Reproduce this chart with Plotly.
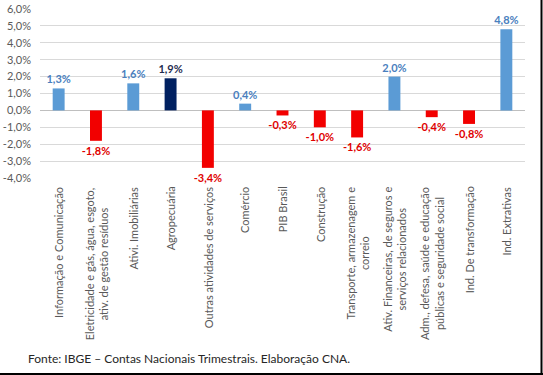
import plotly.graph_objects as go

categories = [
    "Informação e Comunicação",
    "Eletricidade e gás, água, esgoto,<br>ativ. de gestão resíduos",
    "Ativi. Imobiliárias",
    "Agropecuária",
    "Outras atividades de serviços",
    "Comércio",
    "PIB Brasil",
    "Construção",
    "Transporte, armazenagem e<br>correio",
    "Ativ. Financeiras, de seguros e<br>serviços relacionados",
    "Adm., defesa, saúde e educação<br>públicas e seguridade social",
    "Ind. De transformação",
    "Ind. Extrativas",
]
values = [1.3, -1.8, 1.6, 1.9, -3.4, 0.4, -0.3, -1.0, -1.6, 2.0, -0.4, -0.8, 4.8]
highlight = "Agropecuária"
y_ticks = [-4, -3, -2, -1, 0, 1, 2, 3, 4, 5, 6]
y_tick_labels = ["-4,0%", "-3,0%", "-2,0%", "-1,0%", "0,0%", "1,0%", "2,0%",
                 "3,0%", "4,0%", "5,0%", "6,0%"]
source_note = "Fonte: IBGE – Contas Nacionais Trimestrais. Elaboração CNA."

POS, NEG, HI = "#5B9BD5", "#F20000", "#002060"
POS_T, NEG_T, HI_T = "#4A80BE", "#E00000", "#1F2D50"

bar_colors, text_colors = [], []
for c, v in zip(categories, values):
    if c == highlight:
        bar_colors.append(HI); text_colors.append(HI_T)
    elif v >= 0:
        bar_colors.append(POS); text_colors.append(POS_T)
    else:
        bar_colors.append(NEG); text_colors.append(NEG_T)

xidx = list(range(len(categories)))

fig = go.Figure(go.Bar(
    x=xidx, y=values,
    marker=dict(color=bar_colors, line=dict(width=0)),
    texttemplate="%{y:.1f}%", textposition="outside", constraintext="none",
    textfont=dict(family="Lato", size=11, color=text_colors, weight="bold"),
    cliponaxis=False,
))

annotations = []
for i, c in enumerate(categories):
    annotations.append(dict(
        x=i, y=-0.04, xref="x", yref="paper", text=c, textangle=-90,
        showarrow=False, xanchor="center", yanchor="top", align="center",
        font=dict(family="Lato", size=11, color="#595959"),
    ))
annotations.append(dict(
    x=-14/485, y=(178-358)/169, xref="paper", yref="paper", text=source_note,
    showarrow=False, xanchor="left", yanchor="middle",
    font=dict(family="Lato", size=12, color="#262626"),
))

fig.update_layout(
    width=543, height=375,
    margin=dict(l=40, r=18, t=9, b=197, autoexpand=False),
    paper_bgcolor="white", plot_bgcolor="white",
    separators=",.",
    showlegend=False,
    bargap=0.68,
    xaxis=dict(range=[-0.5, len(categories)-0.5], showticklabels=False,
               showgrid=False, zeroline=False, showline=False, ticks="",
               automargin=False),
    yaxis=dict(range=[-4, 6], tickvals=y_ticks, ticktext=y_tick_labels,
               showgrid=True, gridcolor="#D9D9D9", gridwidth=1,
               zeroline=True, zerolinecolor="#BFBFBF", zerolinewidth=1,
               showline=False, ticks="", automargin=False, ticklabelstandoff=8,
               tickfont=dict(family="Lato", size=11, color="#595959")),
    annotations=annotations,
    shapes=[
        dict(type="line", xref="paper", yref="paper",
             x0=-40/485, x1=503/485, y0=(178-374)/169, y1=(178-374)/169,
             line=dict(color="black", width=2)),
        dict(type="line", xref="paper", yref="paper",
             x0=501.5/485, x1=501.5/485, y0=(178-375)/169, y1=178/169,
             line=dict(color="black", width=2)),
    ],
)

fig.write_html("out.html", config={"displayModeBar": False},
               post_script="document.body.style.margin='0';document.body.style.overflow='hidden';")
